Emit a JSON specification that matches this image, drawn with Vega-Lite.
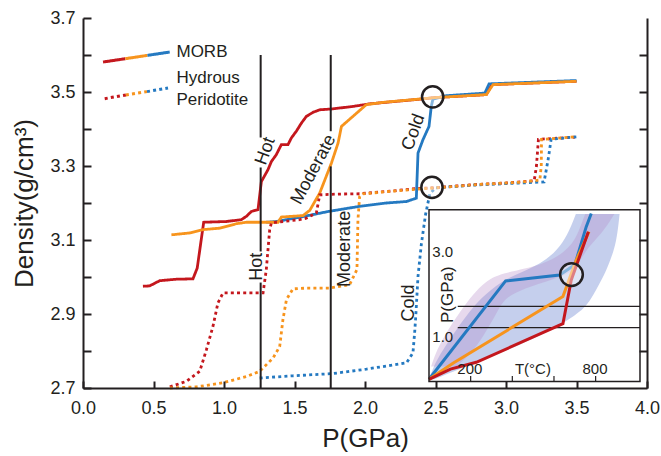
{
  "$schema": "https://vega.github.io/schema/vega-lite/v6.json",
  "width": 564,
  "height": 370,
  "autosize": {"type": "none"},
  "padding": {"left": 83, "top": 18, "right": 14, "bottom": 68},
  "background": "white",
  "config": {"font": "Liberation Sans", "view": {"stroke": null}},
  "datasets": {
    "curves": [
      {"rock":"MORB","regime":"Hot","P":0.425,"rho":2.975},{"rock":"MORB","regime":"Hot","P":0.473,"rho":2.976},{"rock":"MORB","regime":"Hot","P":0.544,"rho":2.990},{"rock":"MORB","regime":"Hot","P":0.662,"rho":2.994},{"rock":"MORB","regime":"Hot","P":0.780,"rho":2.995},{"rock":"MORB","regime":"Hot","P":0.810,"rho":3.024},{"rock":"MORB","regime":"Hot","P":0.856,"rho":3.148},{"rock":"MORB","regime":"Hot","P":1.017,"rho":3.150},{"rock":"MORB","regime":"Hot","P":1.123,"rho":3.155},{"rock":"MORB","regime":"Hot","P":1.159,"rho":3.164},{"rock":"MORB","regime":"Hot","P":1.194,"rho":3.177},{"rock":"MORB","regime":"Hot","P":1.241,"rho":3.182},{"rock":"MORB","regime":"Hot","P":1.265,"rho":3.258},{"rock":"MORB","regime":"Hot","P":1.312,"rho":3.290},{"rock":"MORB","regime":"Hot","P":1.336,"rho":3.312},{"rock":"MORB","regime":"Hot","P":1.370,"rho":3.330},{"rock":"MORB","regime":"Hot","P":1.407,"rho":3.358},{"rock":"MORB","regime":"Hot","P":1.454,"rho":3.358},{"rock":"MORB","regime":"Hot","P":1.478,"rho":3.376},{"rock":"MORB","regime":"Hot","P":1.513,"rho":3.394},{"rock":"MORB","regime":"Hot","P":1.549,"rho":3.416},{"rock":"MORB","regime":"Hot","P":1.584,"rho":3.434},{"rock":"MORB","regime":"Hot","P":1.631,"rho":3.445},{"rock":"MORB","regime":"Hot","P":1.679,"rho":3.452},{"rock":"MORB","regime":"Hot","P":1.760,"rho":3.454},{"rock":"MORB","regime":"Hot","P":1.915,"rho":3.461},{"rock":"MORB","regime":"Hot","P":2.033,"rho":3.468},{"rock":"MORB","regime":"Hot","P":2.200,"rho":3.474},{"rock":"MORB","regime":"Hot","P":2.400,"rho":3.481},{"rock":"MORB","regime":"Hot","P":2.500,"rho":3.485},{"rock":"MORB","regime":"Hot","P":2.860,"rho":3.493},{"rock":"MORB","regime":"Hot","P":2.900,"rho":3.520},{"rock":"MORB","regime":"Hot","P":3.500,"rho":3.529},
      {"rock":"MORB","regime":"Cold","P":1.300,"rho":3.148},{"rock":"MORB","regime":"Cold","P":1.372,"rho":3.150},{"rock":"MORB","regime":"Cold","P":1.584,"rho":3.165},{"rock":"MORB","regime":"Cold","P":1.738,"rho":3.177},{"rock":"MORB","regime":"Cold","P":1.962,"rho":3.191},{"rock":"MORB","regime":"Cold","P":2.152,"rho":3.200},{"rock":"MORB","regime":"Cold","P":2.294,"rho":3.204},{"rock":"MORB","regime":"Cold","P":2.364,"rho":3.213},{"rock":"MORB","regime":"Cold","P":2.376,"rho":3.335},{"rock":"MORB","regime":"Cold","P":2.411,"rho":3.371},{"rock":"MORB","regime":"Cold","P":2.454,"rho":3.407},{"rock":"MORB","regime":"Cold","P":2.470,"rho":3.461},{"rock":"MORB","regime":"Cold","P":2.482,"rho":3.481},{"rock":"MORB","regime":"Cold","P":2.577,"rho":3.490},{"rock":"MORB","regime":"Cold","P":2.850,"rho":3.497},{"rock":"MORB","regime":"Cold","P":2.880,"rho":3.522},{"rock":"MORB","regime":"Cold","P":3.500,"rho":3.531},
      {"rock":"MORB","regime":"Moderate","P":0.627,"rho":3.114},{"rock":"MORB","regime":"Moderate","P":0.757,"rho":3.119},{"rock":"MORB","regime":"Moderate","P":0.851,"rho":3.128},{"rock":"MORB","regime":"Moderate","P":0.970,"rho":3.132},{"rock":"MORB","regime":"Moderate","P":1.088,"rho":3.144},{"rock":"MORB","regime":"Moderate","P":1.159,"rho":3.148},{"rock":"MORB","regime":"Moderate","P":1.383,"rho":3.148},{"rock":"MORB","regime":"Moderate","P":1.407,"rho":3.162},{"rock":"MORB","regime":"Moderate","P":1.560,"rho":3.166},{"rock":"MORB","regime":"Moderate","P":1.608,"rho":3.180},{"rock":"MORB","regime":"Moderate","P":1.679,"rho":3.227},{"rock":"MORB","regime":"Moderate","P":1.762,"rho":3.308},{"rock":"MORB","regime":"Moderate","P":1.809,"rho":3.362},{"rock":"MORB","regime":"Moderate","P":1.833,"rho":3.407},{"rock":"MORB","regime":"Moderate","P":2.010,"rho":3.466},{"rock":"MORB","regime":"Moderate","P":2.128,"rho":3.472},{"rock":"MORB","regime":"Moderate","P":2.388,"rho":3.481},{"rock":"MORB","regime":"Moderate","P":2.500,"rho":3.485},{"rock":"MORB","regime":"Moderate","P":2.861,"rho":3.493},{"rock":"MORB","regime":"Moderate","P":2.908,"rho":3.520},{"rock":"MORB","regime":"Moderate","P":3.500,"rho":3.529},
      {"rock":"Hydrous","regime":"Hot","P":0.616,"rho":2.703},{"rock":"Hydrous","regime":"Hot","P":0.733,"rho":2.718},{"rock":"Hydrous","regime":"Hot","P":0.828,"rho":2.745},{"rock":"Hydrous","regime":"Hot","P":0.875,"rho":2.803},{"rock":"Hydrous","regime":"Hot","P":0.922,"rho":2.867},{"rock":"Hydrous","regime":"Hot","P":0.957,"rho":2.930},{"rock":"Hydrous","regime":"Hot","P":0.993,"rho":2.957},{"rock":"Hydrous","regime":"Hot","P":1.277,"rho":2.957},{"rock":"Hydrous","regime":"Hot","P":1.300,"rho":3.020},{"rock":"Hydrous","regime":"Hot","P":1.324,"rho":3.128},{"rock":"Hydrous","regime":"Hot","P":1.336,"rho":3.146},{"rock":"Hydrous","regime":"Hot","P":1.371,"rho":3.148},{"rock":"Hydrous","regime":"Hot","P":1.537,"rho":3.155},{"rock":"Hydrous","regime":"Hot","P":1.584,"rho":3.159},{"rock":"Hydrous","regime":"Hot","P":1.655,"rho":3.173},{"rock":"Hydrous","regime":"Hot","P":1.679,"rho":3.222},{"rock":"Hydrous","regime":"Hot","P":1.797,"rho":3.224},{"rock":"Hydrous","regime":"Hot","P":1.962,"rho":3.225},{"rock":"Hydrous","regime":"Hot","P":2.152,"rho":3.231},{"rock":"Hydrous","regime":"Hot","P":2.364,"rho":3.239},{"rock":"Hydrous","regime":"Hot","P":2.482,"rho":3.241},{"rock":"Hydrous","regime":"Hot","P":2.742,"rho":3.249},{"rock":"Hydrous","regime":"Hot","P":3.000,"rho":3.254},{"rock":"Hydrous","regime":"Hot","P":3.200,"rho":3.260},{"rock":"Hydrous","regime":"Hot","P":3.216,"rho":3.300},{"rock":"Hydrous","regime":"Hot","P":3.230,"rho":3.372},{"rock":"Hydrous","regime":"Hot","P":3.490,"rho":3.378},
      {"rock":"Hydrous","regime":"Cold","P":1.253,"rho":2.727},{"rock":"Hydrous","regime":"Cold","P":1.489,"rho":2.733},{"rock":"Hydrous","regime":"Cold","P":1.773,"rho":2.739},{"rock":"Hydrous","regime":"Cold","P":2.010,"rho":2.751},{"rock":"Hydrous","regime":"Cold","P":2.294,"rho":2.768},{"rock":"Hydrous","regime":"Cold","P":2.340,"rho":2.795},{"rock":"Hydrous","regime":"Cold","P":2.352,"rho":2.849},{"rock":"Hydrous","regime":"Cold","P":2.360,"rho":2.894},{"rock":"Hydrous","regime":"Cold","P":2.376,"rho":3.002},{"rock":"Hydrous","regime":"Cold","P":2.400,"rho":3.090},{"rock":"Hydrous","regime":"Cold","P":2.430,"rho":3.170},{"rock":"Hydrous","regime":"Cold","P":2.460,"rho":3.225},{"rock":"Hydrous","regime":"Cold","P":2.500,"rho":3.241},{"rock":"Hydrous","regime":"Cold","P":2.800,"rho":3.249},{"rock":"Hydrous","regime":"Cold","P":3.100,"rho":3.254},{"rock":"Hydrous","regime":"Cold","P":3.270,"rho":3.257},{"rock":"Hydrous","regime":"Cold","P":3.300,"rho":3.320},{"rock":"Hydrous","regime":"Cold","P":3.320,"rho":3.372},{"rock":"Hydrous","regime":"Cold","P":3.500,"rho":3.379},
      {"rock":"Hydrous","regime":"Moderate","P":0.616,"rho":2.700},{"rock":"Hydrous","regime":"Moderate","P":0.804,"rho":2.703},{"rock":"Hydrous","regime":"Moderate","P":0.993,"rho":2.714},{"rock":"Hydrous","regime":"Moderate","P":1.159,"rho":2.731},{"rock":"Hydrous","regime":"Moderate","P":1.253,"rho":2.745},{"rock":"Hydrous","regime":"Moderate","P":1.348,"rho":2.781},{"rock":"Hydrous","regime":"Moderate","P":1.395,"rho":2.812},{"rock":"Hydrous","regime":"Moderate","P":1.418,"rho":2.885},{"rock":"Hydrous","regime":"Moderate","P":1.443,"rho":2.939},{"rock":"Hydrous","regime":"Moderate","P":1.489,"rho":2.968},{"rock":"Hydrous","regime":"Moderate","P":1.584,"rho":2.970},{"rock":"Hydrous","regime":"Moderate","P":1.750,"rho":2.970},{"rock":"Hydrous","regime":"Moderate","P":1.890,"rho":2.979},{"rock":"Hydrous","regime":"Moderate","P":1.943,"rho":3.020},{"rock":"Hydrous","regime":"Moderate","P":1.950,"rho":3.155},{"rock":"Hydrous","regime":"Moderate","P":1.962,"rho":3.218},{"rock":"Hydrous","regime":"Moderate","P":1.986,"rho":3.225},{"rock":"Hydrous","regime":"Moderate","P":2.200,"rho":3.232},{"rock":"Hydrous","regime":"Moderate","P":2.500,"rho":3.241},{"rock":"Hydrous","regime":"Moderate","P":2.800,"rho":3.250},{"rock":"Hydrous","regime":"Moderate","P":3.100,"rho":3.256},{"rock":"Hydrous","regime":"Moderate","P":3.240,"rho":3.262},{"rock":"Hydrous","regime":"Moderate","P":3.250,"rho":3.300},{"rock":"Hydrous","regime":"Moderate","P":3.252,"rho":3.372},{"rock":"Hydrous","regime":"Moderate","P":3.500,"rho":3.379}
    ],
    "legendlines": [
      {"rock":"MORB","regime":"Hot","P":0.142,"rho":3.581},{"rock":"MORB","regime":"Hot","P":0.300,"rho":3.590},
      {"rock":"MORB","regime":"Moderate","P":0.300,"rho":3.590},{"rock":"MORB","regime":"Moderate","P":0.457,"rho":3.599},
      {"rock":"MORB","regime":"Cold","P":0.457,"rho":3.599},{"rock":"MORB","regime":"Cold","P":0.615,"rho":3.608},
      {"rock":"Hydrous","regime":"Hot","P":0.154,"rho":3.482},{"rock":"Hydrous","regime":"Hot","P":0.304,"rho":3.492},
      {"rock":"Hydrous","regime":"Moderate","P":0.304,"rho":3.492},{"rock":"Hydrous","regime":"Moderate","P":0.454,"rho":3.501},
      {"rock":"Hydrous","regime":"Cold","P":0.454,"rho":3.501},{"rock":"Hydrous","regime":"Cold","P":0.603,"rho":3.511}
    ],
    "legendtext": [
      {"label":"MORB","P":0.663,"rho":3.595},
      {"label":"Hydrous","P":0.663,"rho":3.5235},
      {"label":"Peridotite","P":0.663,"rho":3.465}
    ],
    "circles": [
      {"P":2.48,"rho":3.487},
      {"P":2.475,"rho":3.242}
    ],
    "vlines": [
      {"P":1.26,"rho":2.70,"rho2":2.985},
      {"P":1.26,"rho":3.069,"rho2":3.296},
      {"P":1.26,"rho":3.377,"rho2":3.60},
      {"P":1.757,"rho":2.70,"rho2":3.299},
      {"P":1.757,"rho":3.394,"rho2":3.60}
    ],
    "insetframe": [{"T":0,"T2":1013,"Pi":-0.05,"Pi2":4.0}],
    "bands": [
      {"band":"band1","Pi":0.0,"T":0,"T2":25},{"band":"band1","Pi":0.4,"T":30,"T2":227},{"band":"band1","Pi":0.8,"T":80,"T2":436},{"band":"band1","Pi":1.3,"T":150,"T2":643},{"band":"band1","Pi":1.7,"T":210,"T2":755},{"band":"band1","Pi":2.0,"T":270,"T2":790},{"band":"band1","Pi":2.4,"T":370,"T2":835},{"band":"band1","Pi":2.7,"T":540,"T2":862},{"band":"band1","Pi":3.2,"T":650,"T2":900},{"band":"band1","Pi":3.9,"T":705,"T2":915},
      {"band":"band2","Pi":0.3,"T":10,"T2":130},{"band":"band2","Pi":0.6,"T":30,"T2":200},{"band":"band2","Pi":1.0,"T":70,"T2":260},{"band":"band2","Pi":1.6,"T":150,"T2":330},{"band":"band2","Pi":2.0,"T":210,"T2":370},{"band":"band2","Pi":2.3,"T":270,"T2":560},{"band":"band2","Pi":2.5,"T":340,"T2":680},{"band":"band2","Pi":2.7,"T":560,"T2":715},{"band":"band2","Pi":3.1,"T":680,"T2":760},{"band":"band2","Pi":3.5,"T":720,"T2":840},{"band":"band2","Pi":3.9,"T":750,"T2":890}
    ],
    "insetlines": [
      {"regime":"Cold","T":0,"Pi":0},{"regime":"Cold","T":368,"Pi":2.32},{"regime":"Cold","T":627,"Pi":2.46},{"regime":"Cold","T":700,"Pi":2.70},{"regime":"Cold","T":755,"Pi":3.60},{"regime":"Cold","T":779,"Pi":3.91},
      {"regime":"Moderate","T":0,"Pi":0},{"regime":"Moderate","T":115,"Pi":0.38},{"regime":"Moderate","T":643,"Pi":1.95},{"regime":"Moderate","T":707,"Pi":2.81},{"regime":"Moderate","T":768,"Pi":3.48},
      {"regime":"Hot","T":0,"Pi":0},{"regime":"Hot","T":103,"Pi":0.24},{"regime":"Hot","T":227,"Pi":0.40},{"regime":"Hot","T":643,"Pi":1.31},{"regime":"Hot","T":683,"Pi":2.34},{"regime":"Hot","T":765,"Pi":3.48}
    ],
    "insethlines": [
      {"T":138,"T2":1013,"Pi":1.22},
      {"T":138,"T2":1013,"Pi":1.72}
    ],
    "insetticks": [
      {"T":200,"Pi":-0.05,"Pi2":0.08},{"T":400,"Pi":-0.05,"Pi2":0.08},{"T":600,"Pi":-0.05,"Pi2":0.08},{"T":800,"Pi":-0.05,"Pi2":0.08}
    ],
    "insetlabels": [
      {"label":"200","T":196,"Pi":0.25},
      {"label":"T(°C)","T":499,"Pi":0.25},
      {"label":"800","T":797,"Pi":0.25},
      {"label":"3.0","T":66,"Pi":3.0},
      {"label":"1.0","T":66,"Pi":1.0}
    ]
  },
  "layer": [
    {
      "layer": [
        {
          "encoding": {
            "x": {"field": "P", "type": "quantitative", "scale": {"domain": [0, 4], "nice": false, "zero": false},
              "axis": {"orient": "bottom", "values": [0, 0.5, 1, 1.5, 2, 2.5, 3, 3.5, 4], "format": ".1f", "title": "P(GPa)",
                "tickSize": -7, "tickWidth": 2, "tickColor": "#231f20", "domainColor": "#231f20", "domainWidth": 2,
                "labelPadding": 18, "labelFontSize": 18, "labelColor": "#231f20", "labelFlush": false, "labelOverlap": false,
                "titleFontSize": 26, "titleFontWeight": "normal", "titleColor": "#231f20", "titlePadding": 8, "grid": false, "zindex": 1}},
            "y": {"field": "rho", "type": "quantitative", "scale": {"domain": [2.7, 3.7], "nice": false, "zero": false},
              "axis": {"orient": "left", "values": [2.7, 2.8, 2.9, 3.0, 3.1, 3.2, 3.3, 3.4, 3.5, 3.6, 3.7],
                "labelExpr": "round(datum.value*10)%2==1 ? format(datum.value,'.1f') : ''", "title": "Density(g/cm³)",
                "tickSize": -8, "tickWidth": 2, "tickColor": "#231f20", "domainColor": "#231f20", "domainWidth": 2,
                "labelPadding": 16, "labelFontSize": 18, "labelColor": "#231f20", "labelFlush": false, "labelOverlap": false,
                "titleFontSize": 26, "titleFontWeight": "normal", "titleColor": "#231f20", "titlePadding": 12, "grid": false, "zindex": 1}}
          },
          "layer": [
            {
              "data": {"name": "curves"},
              "mark": {"type": "line", "strokeWidth": 2.8, "strokeCap": "butt"},
              "encoding": {
                "color": {"field": "regime", "type": "nominal", "scale": {"domain": ["Hot", "Moderate", "Cold"], "range": ["#c4171d", "#f7941d", "#2479c1"]}, "legend": null},
                "strokeDash": {"field": "rock", "type": "nominal", "scale": {"domain": ["MORB", "Hydrous"], "range": [[1, 0], [3, 3.2]]}, "legend": null}
              }
            },
            {
              "data": {"name": "legendlines"},
              "mark": {"type": "line", "strokeWidth": 3, "strokeCap": "butt"},
              "encoding": {
                "color": {"field": "regime", "type": "nominal", "scale": {"domain": ["Hot", "Moderate", "Cold"], "range": ["#c4171d", "#f7941d", "#2479c1"]}, "legend": null},
                "strokeDash": {"field": "rock", "type": "nominal", "scale": {"domain": ["MORB", "Hydrous"], "range": [[1, 0], [3, 3.2]]}, "legend": null}
              }
            },
            {
              "data": {"name": "circles"},
              "mark": {"type": "point", "shape": "circle", "size": 452, "filled": true, "fill": "white", "fillOpacity": 0.45, "stroke": "#231f20", "strokeWidth": 2.5, "strokeOpacity": 1, "opacity": 1}
            },
            {
              "data": {"name": "legendtext"},
              "mark": {"type": "text", "align": "left", "baseline": "alphabetic", "fontSize": 17, "color": "#231f20"},
              "encoding": {"text": {"field": "label"}}
            },
            {
              "data": {"values": [{"label": "Hot", "P": 1.232, "rho": 3.028}, {"label": "Moderate", "P": 1.856, "rho": 3.076}, {"label": "Cold", "P": 2.31, "rho": 2.93}]},
              "mark": {"type": "text", "angle": -90, "align": "center", "baseline": "middle", "fontSize": 18, "color": "#231f20"},
              "encoding": {"text": {"field": "label"}}
            },
            {
              "data": {"values": [{"label": "Hot", "P": 1.295, "rho": 3.34}, {"label": "Cold", "P": 2.345, "rho": 3.391}]},
              "mark": {"type": "text", "angle": -70, "align": "center", "baseline": "middle", "fontSize": 18, "color": "#231f20"},
              "encoding": {"text": {"field": "label"}}
            },
            {
              "data": {"values": [{"label": "Moderate", "P": 1.636, "rho": 3.29}]},
              "mark": {"type": "text", "angle": -62, "align": "center", "baseline": "middle", "fontSize": 18, "color": "#231f20"},
              "encoding": {"text": {"field": "label"}}
            }
          ]
        },
        {
          "data": {"name": "vlines"},
          "mark": {"type": "rule", "strokeWidth": 2, "color": "#231f20"},
          "encoding": {
            "x": {"field": "P", "type": "quantitative", "scale": {"domain": [0, 4], "nice": false, "zero": false}, "axis": null},
            "y": {"field": "rho", "type": "quantitative", "scale": {"domain": [2.7, 3.7], "nice": false, "zero": false},
              "axis": {"orient": "right", "values": [2.8, 2.9, 3.0, 3.1, 3.2, 3.3, 3.4, 3.5, 3.6], "labels": false, "title": null,
                "tickSize": -8, "tickWidth": 2, "tickColor": "#231f20", "domainColor": "#231f20", "domainWidth": 2, "grid": false, "zindex": 1}},
            "y2": {"field": "rho2"}
          }
        }
      ],
      "resolve": {"axis": {"x": "independent", "y": "independent"}}
    },
    {
      "encoding": {
        "x": {"field": "T", "type": "quantitative", "scale": {"domain": [0, 1013], "range": [346, 557], "nice": false, "zero": false}, "axis": null},
        "y": {"field": "Pi", "type": "quantitative", "scale": {"domain": [-0.05, 4.0], "range": [363.4, 191.7], "nice": false, "zero": false}, "axis": null}
      },
      "layer": [
        {
          "data": {"name": "insetframe"},
          "mark": {"type": "rect", "fill": "white"},
          "encoding": {"x2": {"field": "T2"}, "y2": {"field": "Pi2"}}
        },
        {
          "data": {"name": "bands"},
          "transform": [{"filter": "datum.band == 'band1'"}],
          "mark": {"type": "area", "orient": "horizontal", "fill": "#6f86d1", "fillOpacity": 0.4, "interpolate": "basis"},
          "encoding": {"x2": {"field": "T2"}}
        },
        {
          "data": {"name": "bands"},
          "transform": [{"filter": "datum.band == 'band2'"}],
          "mark": {"type": "area", "orient": "horizontal", "fill": "#b48ac6", "fillOpacity": 0.32, "interpolate": "basis"},
          "encoding": {"x2": {"field": "T2"}}
        },
        {
          "data": {"name": "insethlines"},
          "mark": {"type": "rule", "strokeWidth": 1.2, "color": "#231f20"},
          "encoding": {"x2": {"field": "T2"}}
        },
        {
          "data": {"name": "insetlines"},
          "mark": {"type": "line", "strokeWidth": 3},
          "encoding": {
            "color": {"field": "regime", "type": "nominal", "scale": {"domain": ["Hot", "Moderate", "Cold"], "range": ["#c4171d", "#f7941d", "#2479c1"]}, "legend": null},
            "order": {"field": "Pi"}
          }
        },
        {
          "data": {"values": [{"T": 684, "Pi": 2.47}]},
          "mark": {"type": "point", "shape": "circle", "size": 515, "filled": true, "fill": "white", "fillOpacity": 0.45, "stroke": "#231f20", "strokeWidth": 2.5, "strokeOpacity": 1, "opacity": 1}
        },
        {
          "data": {"name": "insetticks"},
          "mark": {"type": "rule", "strokeWidth": 1.2, "color": "#231f20"},
          "encoding": {"y2": {"field": "Pi2"}}
        },
        {
          "data": {"name": "insetlabels"},
          "mark": {"type": "text", "align": "center", "baseline": "middle", "fontSize": 15, "color": "#231f20"},
          "encoding": {"text": {"field": "label"}}
        },
        {
          "data": {"values": [{"label": "P(GPa)", "T": 89, "Pi": 1.995}]},
          "mark": {"type": "text", "angle": -90, "align": "center", "baseline": "middle", "fontSize": 17, "color": "#231f20"},
          "encoding": {"text": {"field": "label"}}
        },
        {
          "data": {"name": "insetframe"},
          "mark": {"type": "rect", "fill": "white", "fillOpacity": 0, "stroke": "#231f20", "strokeWidth": 1.5},
          "encoding": {"x2": {"field": "T2"}, "y2": {"field": "Pi2"}}
        }
      ]
    }
  ],
  "resolve": {"scale": {"x": "independent", "y": "independent"}}
}
